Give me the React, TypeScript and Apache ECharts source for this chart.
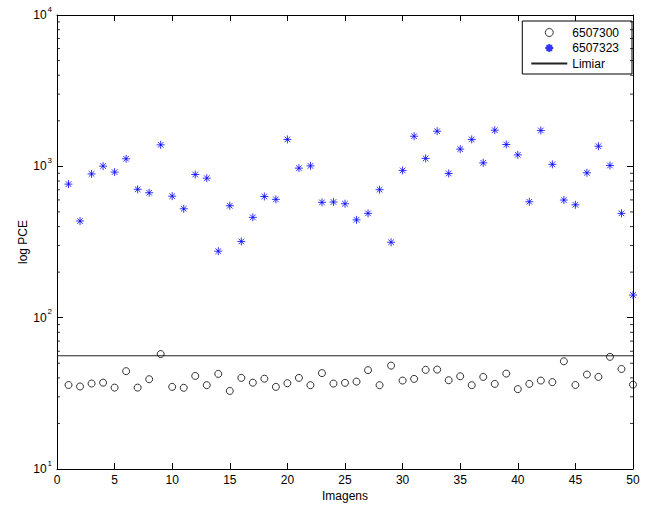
import React, { useEffect, useRef } from "react";
import * as echarts from "echarts";

const imageIndex: number[] = Array.from({ length: 50 }, (_, i) => i + 1);

const series6507300: number[] = [
  35.9, 35.1, 36.7, 37.2, 34.5, 44.3, 34.5, 39.2, 57.5, 34.9,
  34.4, 41.2, 35.8, 42.5, 32.8, 40.0, 37.2, 39.5, 34.9, 36.9,
  40.0, 35.8, 43.0, 36.7, 37.1, 37.8, 45.0, 35.8, 48.2, 38.4,
  39.4, 45.2, 45.4, 38.6, 41.0, 35.8, 40.6, 36.5, 42.7, 33.7,
  36.5, 38.4, 37.5, 51.5, 35.9, 42.1, 40.6, 55.1, 45.8, 36.1,
];

const series6507323: number[] = [
  763, 435, 891, 1003, 916, 1122, 705, 669, 1387, 635,
  524, 883, 835, 275, 549, 319, 460, 632, 605, 1506,
  973, 1007, 578, 581, 566, 443, 489, 701, 315, 940,
  1581, 1128, 1706, 897, 1300, 1506, 1054, 1733, 1394, 1191,
  583, 1726, 1030, 599, 557, 906, 1358, 1013, 489, 141,
];

const thresholdValue = 56;
const xRange: number[] = [0, 50];
const yRange: number[] = [10, 10000];
const minorTickValues: number[] = [
  20, 30, 40, 50, 60, 70, 80, 90,
  200, 300, 400, 500, 600, 700, 800, 900,
  2000, 3000, 4000, 5000, 6000, 7000, 8000, 9000,
];
const legendNames: string[] = ["6507300", "6507323", "Limiar"];

const FONT = "'Liberation Sans', Arial, Helvetica, sans-serif";
const STAR = "path://M0,5L10,5M5,0L5,10M1.5,1.5L8.5,8.5M1.5,8.5L8.5,1.5";

export default function App() {
  const ref = useRef<HTMLDivElement>(null);

  useEffect(() => {
    if (!ref.current) return;
    const chart = echarts.init(ref.current, null, { renderer: "svg" });

    const axisLine = { show: true, onZero: false, lineStyle: { color: "#000", width: 1 } };
    const majorTick = { show: true, inside: true, length: 6, lineStyle: { color: "#000", width: 1 } };

    const minorTickSeries = (xVal: number, offset: number) => ({
      type: "scatter",
      xAxisIndex: 0,
      yAxisIndex: 0,
      symbol: "rect",
      symbolSize: [3, 1],
      symbolOffset: [offset, 0],
      itemStyle: { color: "#000" },
      silent: true,
      clip: false,
      z: 4,
      data: minorTickValues.map((v) => [xVal, v]),
    });

    const option: any = {
      animation: false,
      backgroundColor: "#fff",
      grid: { left: 57, right: 17, top: 15, bottom: 39, containLabel: false },
      legend: {
        orient: "vertical",
        right: 18,
        top: 21,
        data: [
          { name: legendNames[0], itemStyle: { borderWidth: 1, borderColor: "#000", color: "rgba(0,0,0,0)" } },
          { name: legendNames[1] },
          { name: legendNames[2], itemStyle: { opacity: 0 } },
        ],
        itemWidth: 36,
        itemHeight: 8,
        itemGap: 2.5,
        padding: [5, 13, 4, 8],
        borderColor: "#000",
        borderWidth: 1,
        backgroundColor: "#fff",
        textStyle: { fontFamily: FONT, fontSize: 12, color: "#000", lineHeight: 13 },
        selectedMode: false,
      },
      xAxis: [
        {
          type: "value",
          min: xRange[0],
          max: xRange[1],
          interval: 5,
          position: "bottom",
          axisLine,
          axisTick: majorTick,
          splitLine: { show: false },
          axisLabel: { fontFamily: FONT, fontSize: 12, color: "#000", margin: 5 },
          name: "Imagens",
          nameLocation: "middle",
          nameGap: 21,
          nameMoveOverlap: false,
          nameTextStyle: { fontFamily: FONT, fontSize: 12, color: "#000" },
        },
        {
          type: "value",
          min: xRange[0],
          max: xRange[1],
          interval: 5,
          position: "top",
          axisLine,
          axisTick: majorTick,
          splitLine: { show: false },
          axisLabel: { show: false },
        },
      ],
      yAxis: [
        {
          type: "log",
          logBase: 10,
          min: yRange[0],
          max: yRange[1],
          position: "left",
          axisLine,
          axisTick: majorTick,
          splitLine: { show: false },
          axisLabel: {
            margin: 5,
            formatter: (v: number) => `{b|10}{s|${Math.round(Math.log10(v))}}`,
            rich: {
              b: { fontFamily: FONT, fontSize: 12, color: "#000" },
              s: { fontFamily: FONT, fontSize: 8, color: "#000", padding: [0, 0, 12, 1] },
            },
          },
          name: "log PCE",
          nameLocation: "middle",
          nameGap: 28,
          nameMoveOverlap: false,
          nameTextStyle: { fontFamily: FONT, fontSize: 12, color: "#000" },
        },
        {
          type: "log",
          logBase: 10,
          min: yRange[0],
          max: yRange[1],
          position: "right",
          axisLine,
          axisTick: majorTick,
          splitLine: { show: false },
          axisLabel: { show: false },
        },
      ],
      series: [
        minorTickSeries(xRange[0], 1.5),
        minorTickSeries(xRange[1], -1.5),
        {
          name: "6507300",
          type: "scatter",
          symbol: "circle",
          symbolSize: 7,
          itemStyle: { color: "rgba(0,0,0,0)", borderColor: "#000", borderWidth: 1 },
          data: imageIndex.map((x, i) => [x, series6507300[i]]),
          clip: false,
          z: 3,
        },
        {
          name: "6507323",
          type: "scatter",
          symbol: STAR,
          symbolSize: 8,
          itemStyle: { color: "rgba(0,0,255,0)", borderColor: "#0000ff", borderWidth: 1 },
          data: imageIndex.map((x, i) => [x, series6507323[i]]),
          clip: false,
          z: 3,
        },
        {
          name: "Limiar",
          type: "line",
          symbol: "none",
          lineStyle: { color: "#222", width: 1 },
          itemStyle: { color: "#222" },
          data: [
            [xRange[0], thresholdValue],
            [xRange[1], thresholdValue],
          ],
          z: 2,
        },
      ],
    };

    chart.setOption(option);
    return () => chart.dispose();
  }, []);

  return (
    <div
      ref={ref}
      style={{ position: "fixed", left: 0, top: 0, width: 650, height: 508 }}
    />
  );
}
